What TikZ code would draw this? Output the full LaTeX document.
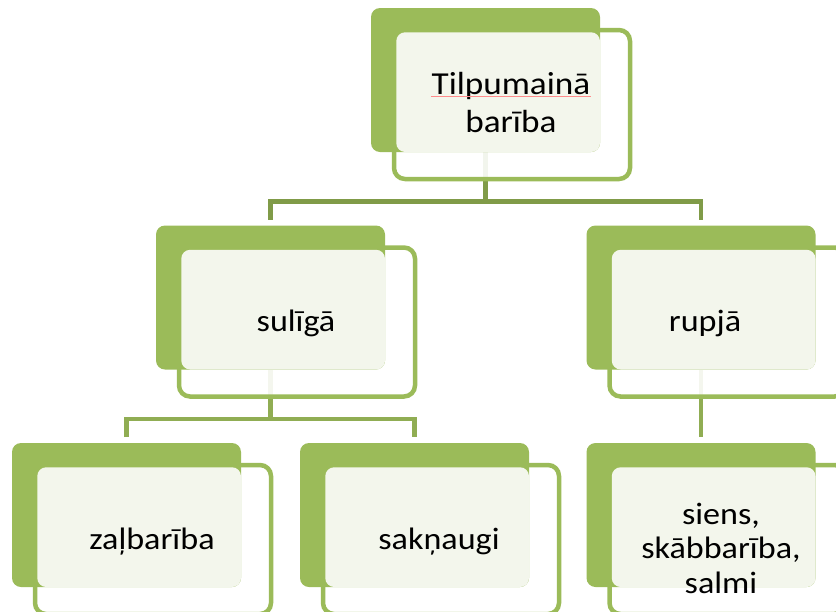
\documentclass[tikz,border=0pt]{standalone}
\usepackage{fontspec}
\setmainfont{Carlito}[FakeStretch=1.1]
\usetikzlibrary{calc}
\definecolor{accgreen}{HTML}{9BBB59}
\definecolor{lightfill}{HTML}{F3F6EC}
\definecolor{topline}{HTML}{809B48}
\definecolor{subline}{HTML}{90AD53}
\pgfdeclarelayer{bg}
\pgfdeclarelayer{frames}
\pgfsetlayers{bg,frames,main}
\tikzset{
  backbox/.style={fill=accgreen, rounded corners=9pt, minimum width=229pt, minimum height=144pt, inner sep=0pt, outer sep=0pt},
  framebox/.style={draw=accgreen, line width=4.5pt, fill=white, fill opacity=0.9, rounded corners=11pt, minimum width=236pt, minimum height=149pt, inner sep=0pt, outer sep=0pt},
  lightbox/.style={fill=lightfill, rounded corners=9pt},
  lbl/.style={font=\fontsize{31}{34.5}\selectfont, align=center, text=black, inner sep=0pt},
  toplbl/.style={font=\fontsize{32}{38}\selectfont, align=center, text=black, inner sep=0pt},
  conn/.style={line width=4.5pt},
}
\begin{document}
\begin{tikzpicture}[x=1pt,y=-1pt]
\useasboundingbox (0,0) rectangle (836,611);
\clip (0,0) rectangle (836,611);
% back boxes
\node[backbox] (top)  at (485.5,80) {};
\node[backbox] (midL) at (270.5,297.5) {};
\node[backbox] (midR) at (701,297.5) {};
\node[backbox] (botL) at (126.5,515) {};
\node[backbox] (botM) at (414.5,515) {};
\node[backbox] (botR) at (701,515) {};
% frames
\begin{pgfonlayer}{frames}
\node[framebox] (topF)  at ($(top)+(26.5,24.5)$) {};
\node[framebox] (midLF) at ($(midL)+(26.5,24.5)$) {};
\node[framebox] (midRF) at ($(midR)+(26.5,24.5)$) {};
\node[framebox] (botLF) at ($(botL)+(26.5,24.5)$) {};
\node[framebox] (botMF) at ($(botM)+(26.5,24.5)$) {};
\node[framebox] (botRF) at ($(botR)+(26.5,24.5)$) {};
\end{pgfonlayer}
% light overlaps
\fill[lightbox] ($(topF.north west)+(2.25,2.25)$) rectangle (top.south east);
\fill[lightbox] ($(midLF.north west)+(2.25,2.25)$) rectangle (midL.south east);
\fill[lightbox] ($(midRF.north west)+(2.25,2.25)$) rectangle (midR.south east);
\fill[lightbox] ($(botLF.north west)+(2.25,2.25)$) rectangle (botL.south east);
\fill[lightbox] ($(botMF.north west)+(2.25,2.25)$) rectangle (botM.south east);
\fill[lightbox] ($(botRF.north west)+(2.25,2.25)$) rectangle (botR.south east);
% connectors
\begin{pgfonlayer}{bg}
\draw[conn, topline] (top.south) -- ++(0,49.5) coordinate (bar1);
\draw[conn, topline] ($(midL.north)+(0,-6)$) |- (bar1) -| ($(midR.north)+(0,-6)$);
\draw[conn, subline] (midL.south) -- ++(0,49.5) coordinate (bar2);
\draw[conn, subline] ($(botL.north)+(0,-6)$) |- (bar2) -| ($(botM.north)+(0,-6)$);
\draw[conn, subline] (midR.south) -- ($(botR.north)+(0,-6)$);
\end{pgfonlayer}
% labels
\node[toplbl] (topT) at (511,103) {Tilpumainā\\barība};
\draw[red!45, line width=0.8pt] ($(topT.north west)+(0,24)$) -- ($(topT.north east)+(0,24)$);
\node[lbl, anchor=base] (midLT) at (296,331.7) {sulīgā};
\node[lbl, anchor=base] (midRT) at (705,331.7) {rupjā};
\node[lbl, anchor=base] (botLT) at (152,549) {zaļbarība};
\node[lbl, anchor=base] (botMT) at (439,549) {sakņaugi};
\node[lbl] (botRT) at (721,548) {siens,\\skābbarība,\\salmi};
\end{tikzpicture}
\end{document}
